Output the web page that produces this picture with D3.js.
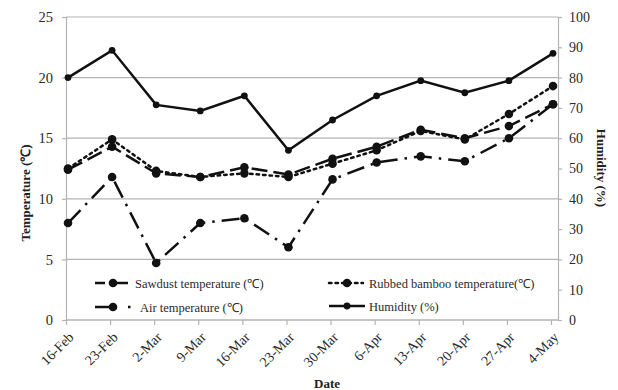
<!DOCTYPE html>
<html>
<head>
<meta charset="utf-8">
<script src="https://cdn.jsdelivr.net/npm/d3@7"></script>
<style>
  html, body { margin: 0; padding: 0; background: #fff; }
</style>
</head>
<body>
<svg id="chart" width="618" height="390"></svg>
<script>
// Sampling dates
const dates = ["16-Feb","23-Feb","2-Mar","9-Mar","16-Mar","23-Mar","30-Mar","6-Apr","13-Apr","20-Apr","27-Apr","4-May"];
// Temperatures (°C)
const sawdustTemp = [12.4, 14.3, 12.1, 11.8, 12.6, 12.0, 13.3, 14.3, 15.7, 15.0, 16.0, 17.8];
const bambooTemp  = [12.5, 14.9, 12.3, 11.8, 12.1, 11.8, 12.9, 14.0, 15.6, 14.9, 17.0, 19.3];
const airTemp     = [8.0, 11.8, 4.7, 8.0, 8.4, 6.0, 11.6, 13.0, 13.5, 13.1, 15.0, 17.8];
// Relative humidity (%)
const humidity    = [80, 89, 71, 69, 74, 56, 66, 74, 79, 75, 79, 88];
// Axis ticks
const tempTicks = [0, 5, 10, 15, 20, 25];
const humTicks  = [0, 10, 20, 30, 40, 50, 60, 70, 80, 90, 100];

const FONT = "'Liberation Serif', 'Times New Roman', serif";
const svg = d3.select("#chart");
const plot = { left: 66, right: 558, top: 17, bottom: 320 };

const x = d3.scalePoint().domain(dates).range([68, 553]);
const yT = d3.scaleLinear().domain([0, 25]).range([plot.bottom, plot.top]);
const yH = d3.scaleLinear().domain([0, 100]).range([plot.bottom, plot.top]);

const axisColor = "#b3b3b3";
const textColor = "#2a2a2a";

// Horizontal gridlines
svg.append("g").selectAll("line").data(tempTicks).join("line")
  .attr("x1", plot.left).attr("x2", plot.right)
  .attr("y1", d => yT(d)).attr("y2", d => yT(d))
  .attr("stroke", axisColor).attr("stroke-width", 1.2);

// Left axis
const gL = svg.append("g").attr("transform", `translate(${plot.left},0)`)
  .call(d3.axisLeft(yT).tickValues(tempTicks).tickSize(4).tickPadding(9));
// Right axis
const gR = svg.append("g").attr("transform", `translate(${plot.right},0)`)
  .call(d3.axisRight(yH).tickValues(humTicks).tickSize(4).tickPadding(7));
// Bottom axis (tick marks sit a touch left of the plotted points)
const xShift = -2;
const gB = svg.append("g").attr("transform", `translate(${xShift},${plot.bottom})`)
  .call(d3.axisBottom(x).tickSize(5).tickSizeOuter(0));
gB.select(".domain").attr("d", `M${plot.left - xShift},0H${plot.right - xShift}`);

[gL, gR, gB].forEach(g => {
  g.attr("font-family", null);
  g.select(".domain").attr("stroke", axisColor).attr("stroke-width", 1.2);
  g.selectAll(".tick line").attr("stroke", axisColor).attr("stroke-width", 1.2);
  g.selectAll(".tick text").attr("fill", textColor)
    .style("font-family", FONT).style("font-size", "14.5px");
});
gR.selectAll(".tick text").style("font-size", "14px");
gB.selectAll(".tick text")
  .attr("text-anchor", "end")
  .attr("dy", null).attr("y", null)
  .attr("transform", "translate(8,18) rotate(-45)")
  .style("font-size", "14px");

// Axis titles
function title(sel) {
  return sel.style("font-family", FONT).style("font-weight", "bold")
    .style("font-size", "13px").attr("fill", "#222").attr("text-anchor", "middle");
}
title(svg.append("text"))
  .attr("transform", `translate(30,193) rotate(-90)`)
  .text("Temperature (℃)");
title(svg.append("text"))
  .attr("transform", `translate(597,168) rotate(90)`)
  .text("Humidity (%)");
title(svg.append("text"))
  .attr("x", 327).attr("y", 388)
  .text("Date");

// Series definitions
const series = [
  { name: "Humidity (%)", values: humidity, y: yH, dash: null, r: 3.4 },
  { name: "Sawdust temperature (℃)", values: sawdustTemp, y: yT, dash: "16,6", r: 4.3 },
  { name: "Air temperature (℃)", values: airTemp, y: yT, dash: "18,7,2.5,7", r: 4.3 },
  { name: "Rubbed bamboo temperature(℃)", values: bambooTemp, y: yT, dash: "2.5,4", r: 4.3 }
];

series.forEach(s => {
  const line = d3.line()
    .x((d, i) => x(dates[i]))
    .y(d => s.y(d));
  svg.append("path")
    .datum(s.values)
    .attr("d", line)
    .attr("fill", "none")
    .attr("stroke", "#111")
    .attr("stroke-width", 2.5)
    .attr("stroke-dasharray", s.dash)
    .attr("stroke-linecap", s.dash === "2.5,4" ? "round" : "butt");
  svg.append("g").selectAll("circle").data(s.values).join("circle")
    .attr("cx", (d, i) => x(dates[i]))
    .attr("cy", d => s.y(d))
    .attr("r", s.r)
    .attr("fill", "#111");
});

// Legend
const legendItems = [
  { label: "Sawdust temperature (℃)", dash: "10,5,20", x: 95, len: 33, tx: 135, y: 283, r: 4.3 },
  { label: "Rubbed bamboo temperature(℃)", dash: "2.5,4", x: 329, len: 34, tx: 369, y: 283, r: 4.3 },
  { label: "Air temperature (℃)", dash: "22,11,2.5,20", x: 95, len: 36, tx: 140, y: 307, r: 4.3 },
  { label: "Humidity (%)", dash: null, x: 329, len: 36, tx: 369, y: 306, r: 3.4 }
];
const lg = svg.append("g");
legendItems.forEach(it => {
  lg.append("line")
    .attr("x1", it.x).attr("x2", it.x + it.len)
    .attr("y1", it.y).attr("y2", it.y)
    .attr("stroke", "#111").attr("stroke-width", 2.5)
    .attr("stroke-dasharray", it.dash)
    .attr("stroke-linecap", it.dash === "2.5,4" ? "round" : "butt");
  lg.append("circle")
    .attr("cx", it.x + 18).attr("cy", it.y).attr("r", it.r).attr("fill", "#111");
  lg.append("text")
    .attr("x", it.tx).attr("y", it.y + 4.5)
    .style("font-family", FONT).style("font-size", "12.5px")
    .attr("fill", textColor)
    .text(it.label);
});
</script>
</body>
</html>
